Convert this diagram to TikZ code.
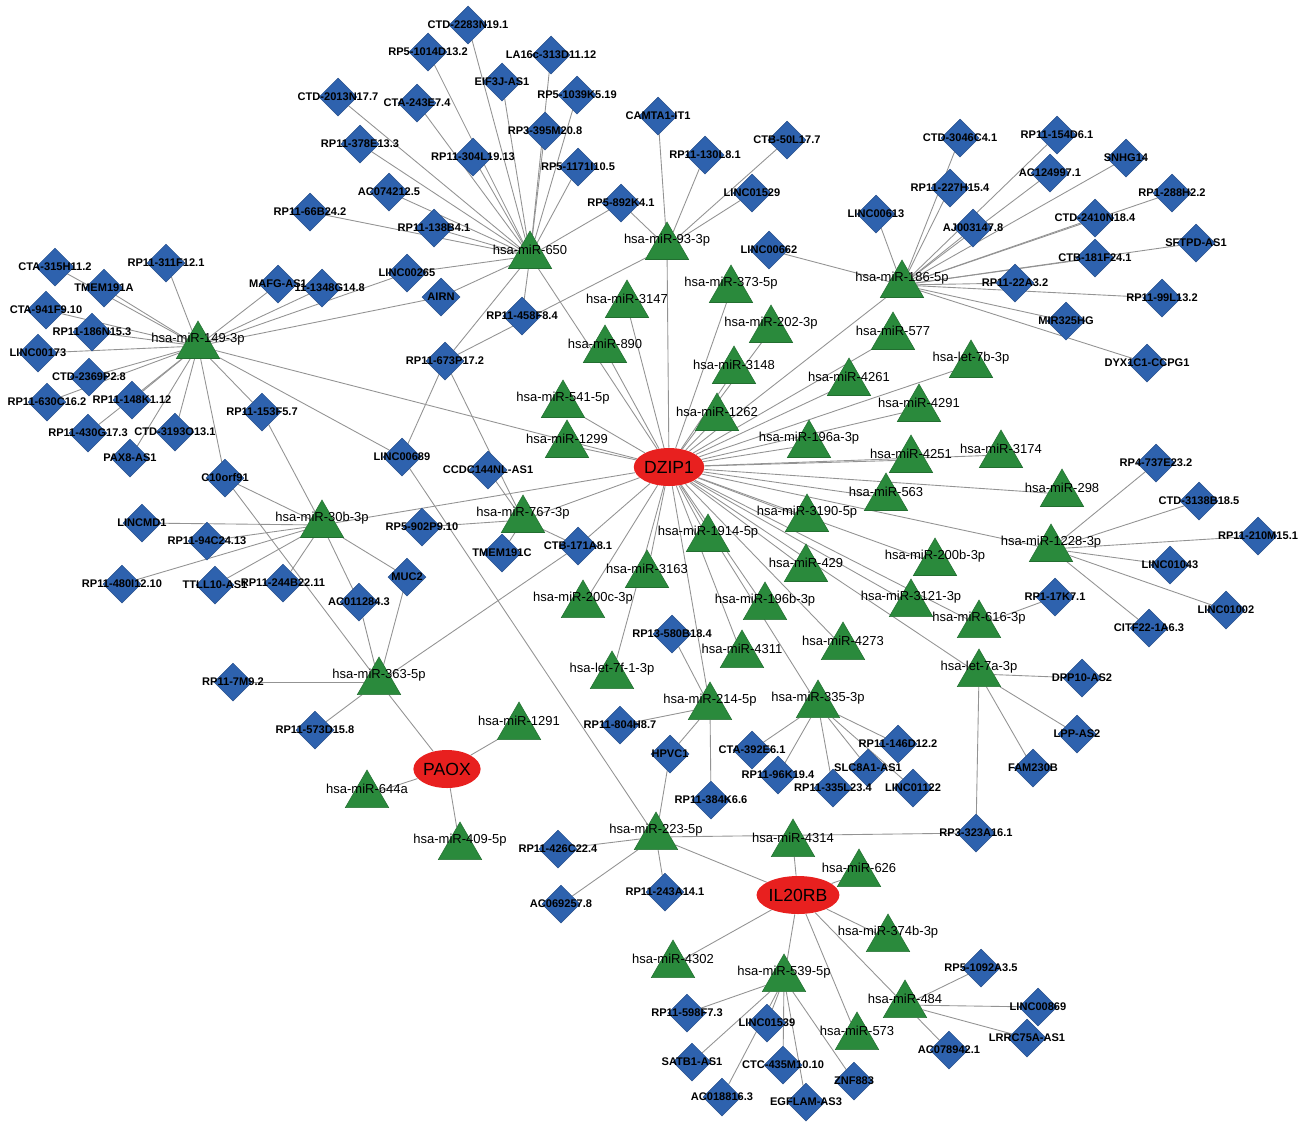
\documentclass[tikz,border=0pt]{standalone}
\usepackage{fontspec}
\setmainfont{Liberation Sans}
\usetikzlibrary{shapes.geometric,backgrounds}
\definecolor{mirgreen}{HTML}{2A8A3C}
\definecolor{lncblue}{HTML}{2E62AE}
\definecolor{genered}{HTML}{E8201F}
\tikzset{
  mir/.style={regular polygon, regular polygon sides=3, fill=mirgreen, draw=mirgreen!80!black, line width=0.3pt, minimum size=1cm, inner sep=0pt},
  lnc/.style={diamond, fill=lncblue, draw=lncblue!80!black, line width=0.3pt, minimum width=0.76cm, minimum height=0.76cm, inner sep=0pt},
  gene/.style={ellipse, fill=genered, minimum width=0.93cm, minimum height=0.76cm, inner sep=0pt, font=\fontsize{10}{11}\selectfont},
  mlab/.style={yshift=0.13cm, font=\fontsize{7.4}{8}\selectfont, inner sep=0pt},
  llab/.style={font=\bfseries\fontsize{6.3}{7}\selectfont, inner sep=0pt},
  edge/.style={draw=gray!85, line width=0.5pt}
}
\newcommand\mirna[3]{\node[mir, label={[mlab]center:#3}] (#1) at (#2) {};}
\newcommand\lncrna[3]{\node[lnc, label={[llab]center:#3}] (#1) at (#2) {};}
\begin{document}
\begin{tikzpicture}[x=0.02cm, y=-0.02cm]
\useasboundingbox (0,0) rectangle (1305,1134);
% genes
\node[gene] (dzip) at (669,467) {DZIP1};
\node[gene] (paox) at (447,769) {PAOX};
\node[gene] (il20) at (798,895) {IL20RB};
% miRNAs
\mirna{m650}{530,256}{hsa-miR-650}
\mirna{m93}{667,247}{hsa-miR-93-3p}
\mirna{m186}{902,285}{hsa-miR-186-5p}
\mirna{m149}{198,346}{hsa-miR-149-3p}
\mirna{m3147}{627,305}{hsa-miR-3147}
\mirna{m373}{731,290}{hsa-miR-373-5p}
\mirna{m202}{771,330}{hsa-miR-202-3p}
\mirna{m890}{605,350}{hsa-miR-890}
\mirna{m577}{893,337}{hsa-miR-577}
\mirna{m3148}{734,371}{hsa-miR-3148}
\mirna{m7b}{971,365}{hsa-let-7b-3p}
\mirna{m4261}{849,383}{hsa-miR-4261}
\mirna{m541}{563,405}{hsa-miR-541-5p}
\mirna{m4291}{919,409}{hsa-miR-4291}
\mirna{m1262}{717,418}{hsa-miR-1262}
\mirna{m1299}{567,445}{hsa-miR-1299}
\mirna{m196a}{809,445}{hsa-miR-196a-3p}
\mirna{m3174}{1001,455}{hsa-miR-3174}
\mirna{m4251}{911,460}{hsa-miR-4251}
\mirna{m563}{886,498}{hsa-miR-563}
\mirna{m298}{1062,494}{hsa-miR-298}
\mirna{m30b}{322,525}{hsa-miR-30b-3p}
\mirna{m767}{523,520}{hsa-miR-767-3p}
\mirna{m3190}{807,519}{hsa-miR-3190-5p}
\mirna{m1914}{708,539}{hsa-miR-1914-5p}
\mirna{m1228}{1051,549}{hsa-miR-1228-3p}
\mirna{m200b}{935,563}{hsa-miR-200b-3p}
\mirna{m429}{806,569}{hsa-miR-429}
\mirna{m3163}{647,575}{hsa-miR-3163}
\mirna{m200c}{583,605}{hsa-miR-200c-3p}
\mirna{m3121}{911,604}{hsa-miR-3121-3p}
\mirna{m196b}{765,607}{hsa-miR-196b-3p}
\mirna{m616}{979,625}{hsa-miR-616-3p}
\mirna{m4273}{843,647}{hsa-miR-4273}
\mirna{m4311}{742,655}{hsa-miR-4311}
\mirna{m7f}{612,676}{hsa-let-7f-1-3p}
\mirna{m7a}{979,674}{hsa-let-7a-3p}
\mirna{m363}{379,682}{hsa-miR-363-5p}
\mirna{m214}{710,707}{hsa-miR-214-5p}
\mirna{m335}{818,705}{hsa-miR-335-3p}
\mirna{m1291}{519,727}{hsa-miR-1291}
\mirna{m644}{367,795}{hsa-miR-644a}
\mirna{m409}{460,847}{hsa-miR-409-5p}
\mirna{m223}{656,837}{hsa-miR-223-5p}
\mirna{m4314}{793,844}{hsa-miR-4314}
\mirna{m626}{859,874}{hsa-miR-626}
\mirna{m374}{888,939}{hsa-miR-374b-3p}
\mirna{m4302}{673,965}{hsa-miR-4302}
\mirna{m539}{784,979}{hsa-miR-539-5p}
\mirna{m484}{905,1005}{hsa-miR-484}
\mirna{m573}{857,1037}{hsa-miR-573}
% lncRNAs round miR-650 and miR-93-3p
\lncrna{a1}{468,25}{CTD-2283N19.1}
\lncrna{a2}{428,52}{RP5-1014D13.2}
\lncrna{a3}{551,55}{LA16c-313D11.12}
\lncrna{a4}{502,82}{EIF3J-AS1}
\lncrna{a5}{577,95}{RP5-1039K5.19}
\lncrna{a6}{338,97}{CTD-2013N17.7}
\lncrna{a7}{417,103}{CTA-243E7.4}
\lncrna{a8}{545,131}{RP3-395M20.8}
\lncrna{a9}{360,144}{RP11-378E13.3}
\lncrna{a10}{473,157}{RP11-304L19.13}
\lncrna{a11}{578,167}{RP5-1171I10.5}
\lncrna{a12}{389,192}{AC074212.5}
\lncrna{a13}{310,212}{RP11-66B24.2}
\lncrna{a14}{434,228}{RP11-138B4.1}
\lncrna{a15}{621,203}{RP5-892K4.1}
\lncrna{b1}{658,116}{CAMTA1-IT1}
\lncrna{b2}{705,155}{RP11-130L8.1}
\lncrna{b3}{787,140}{CTB-50L17.7}
\lncrna{b4}{752,193}{LINC01529}
\lncrna{b5}{769,250}{LINC00662}
% lncRNAs round miR-149-3p
\lncrna{e1}{55,267}{CTA-315H11.2}
\lncrna{e2}{166,263}{RP11-311F12.1}
\lncrna{e3}{104,288}{TMEM191A}
\lncrna{e4}{46,310}{CTA-941F9.10}
\lncrna{e5}{92,332}{RP11-186N15.3}
\lncrna{e6}{38,353}{LINC00173}
\lncrna{e7}{89,377}{CTD-2369P2.8}
\lncrna{e8}{47,402}{RP11-630C16.2}
\lncrna{e9}{132,400}{RP11-148K1.12}
\lncrna{e10}{88,433}{RP11-430G17.3}
\lncrna{e11}{175,432}{CTD-3193O13.1}
\lncrna{e12}{130,458}{PAX8-AS1}
% lncRNAs in the middle left
\lncrna{c2}{322,288}{RP11-1348G14.8}
\lncrna{c1}{278,284}{MAFG-AS1}
\lncrna{c3}{407,273}{LINC00265}
\lncrna{c4}{441,297}{AIRN}
\lncrna{c5}{522,316}{RP11-458F8.4}
\lncrna{c6}{445,361}{RP11-673P17.2}
\lncrna{c7}{262,412}{RP11-153F5.7}
\lncrna{c8}{402,457}{LINC00689}
\lncrna{c9}{488,470}{CCDC144NL-AS1}
\lncrna{c10}{225,478}{C10orf91}
\lncrna{c11}{422,527}{RP5-902P9.10}
\lncrna{c12}{502,553}{TMEM191C}
\lncrna{c13}{578,546}{CTB-171A8.1}
\lncrna{c14}{407,577}{MUC2}
\lncrna{f1}{142,523}{LINCMD1}
\lncrna{f2}{207,541}{RP11-94C24.13}
\lncrna{f3}{122,584}{RP11-480I12.10}
\lncrna{f4}{215,585}{TTLL10-AS1}
\lncrna{f5}{283,583}{RP11-244B22.11}
\lncrna{f6}{359,602}{AC011284.3}
\lncrna{f7}{233,682}{RP11-7M9.2}
\lncrna{f8}{315,730}{RP11-573D15.8}
% lncRNAs round miR-186-5p
\lncrna{g1}{960,138}{CTD-3046C4.1}
\lncrna{g2}{1057,135}{RP11-154D6.1}
\lncrna{g3}{1050,173}{AC124997.1}
\lncrna{g4}{1126,158}{SNHG14}
\lncrna{g5}{950,188}{RP11-227H15.4}
\lncrna{g6}{1172,193}{RP1-288H2.2}
\lncrna{g7}{876,214}{LINC00613}
\lncrna{g8}{973,228}{AJ003147.8}
\lncrna{g9}{1095,218}{CTD-2410N18.4}
\lncrna{g10}{1196,243}{SFTPD-AS1}
\lncrna{g11}{1095,258}{CTB-181F24.1}
\lncrna{g12}{1015,283}{RP11-22A3.2}
\lncrna{g13}{1162,298}{RP11-99L13.2}
\lncrna{g14}{1066,321}{MIR325HG}
\lncrna{g15}{1147,363}{DYX1C1-CCPG1}
% lncRNAs on the right
\lncrna{h1}{1156,463}{RP4-737E23.2}
\lncrna{h2}{1199,501}{CTD-3138B18.5}
\lncrna{h3}{1258,536}{RP11-210M15.1}
\lncrna{h4}{1170,565}{LINC01043}
\lncrna{h5}{1226,610}{LINC01002}
\lncrna{h6}{1149,628}{CITF22-1A6.3}
\lncrna{h7}{1055,597}{RP1-17K7.1}
\lncrna{h8}{1082,678}{DPP10-AS2}
\lncrna{h9}{1077,734}{LPP-AS2}
\lncrna{h10}{1033,768}{FAM230B}
\lncrna{h11}{976,833}{RP3-323A16.1}
% lncRNAs round miR-214-5p and miR-335-3p
\lncrna{k1}{672,634}{RP13-580B18.4}
\lncrna{k2}{620,725}{RP11-804H8.7}
\lncrna{k3}{670,754}{HPVC1}
\lncrna{k4}{711,800}{RP11-384K6.6}
\lncrna{k5}{752,750}{CTA-392E6.1}
\lncrna{k6}{778,775}{RP11-96K19.4}
\lncrna{k7}{898,744}{RP11-146D12.2}
\lncrna{k8}{868,768}{SLC8A1-AS1}
\lncrna{k9}{833,788}{RP11-335L23.4}
\lncrna{k10}{913,788}{LINC01122}
% lncRNAs at the bottom
\lncrna{n1}{558,849}{RP11-426C22.4}
\lncrna{n2}{561,904}{AC069257.8}
\lncrna{n3}{665,892}{RP11-243A14.1}
\lncrna{n4}{687,1013}{RP11-598F7.3}
\lncrna{n5}{767,1023}{LINC01539}
\lncrna{n6}{692,1062}{SATB1-AS1}
\lncrna{n7}{783,1065}{CTC-435M10.10}
\lncrna{n8}{854,1081}{ZNF883}
\lncrna{n9}{722,1097}{AC018816.3}
\lncrna{n10}{806,1102}{EGFLAM-AS3}
\lncrna{n11}{981,968}{RP5-1092A3.5}
\lncrna{n12}{1038,1007}{LINC00869}
\lncrna{n13}{1027,1038}{LRRC75A-AS1}
\lncrna{n14}{949,1050}{AC078942.1}
% connectors
\begin{scope}[on background layer]
\foreach \t in {m650,m93,m186,m149,m30b,m767,m3147,m373,m202,m890,m577,m3148,m7b,m4261,m541,m4291,m1262,m1299,m196a,m3174,m4251,m563,m298,m3190,m1914,m1228,m200b,m429,m3163,m200c,m3121,m196b,m616,m4273,m4311,m7f,m7a,m214,m335,c13}
  \draw[edge] (dzip) -- (\t);
\foreach \t in {a1,a2,a3,a4,a5,a6,a7,a8,a9,a10,a11,a12,a13,a14,a15,c3,c4,c5,c6}
  \draw[edge] (m650) -- (\t);
\foreach \t in {a15,b1,b2,b3,b4,c6}
  \draw[edge] (m93) -- (\t);
\foreach \t in {e1,e2,e3,e4,e5,e6,e7,e8,e9,e10,e11,e12,c1,c2,c3,c4,c7,c8,c10}
  \draw[edge] (m149) -- (\t);
\foreach \t in {g1,g2,g3,g4,g5,g6,g7,g8,g9,g10,g11,g12,g13,g14,g15,b5}
  \draw[edge] (m186) -- (\t);
\foreach \t in {c7,c10,c14,f1,f2,f3,f4,f5,f6}
  \draw[edge] (m30b) -- (\t);
\foreach \t in {c6,c9,c11,c12,c13}
  \draw[edge] (m767) -- (\t);
\foreach \t in {c10,c13,c14,f6,f7,f8,paox}
  \draw[edge] (m363) -- (\t);
\draw[edge] (c6) -- (c8);
\foreach \t in {h1,h2,h3,h4,h5,h6}
  \draw[edge] (m1228) -- (\t);
\draw[edge] (m616) -- (h7);
\foreach \t in {h8,h9,h10,h11}
  \draw[edge] (m7a) -- (\t);
\foreach \t in {k1,k2,k3,k4}
  \draw[edge] (m214) -- (\t);
\foreach \t in {k5,k6,k7,k8,k9,k10}
  \draw[edge] (m335) -- (\t);
\foreach \t in {c8,k3,h11,n1,n2,n3,il20}
  \draw[edge] (m223) -- (\t);
\foreach \t in {m1291,m644,m409}
  \draw[edge] (paox) -- (\t);
\foreach \t in {m4314,m626,m374,m4302,m539,m573,m484}
  \draw[edge] (il20) -- (\t);
\foreach \t in {n4,n5,n6,n7,n8,n9,n10}
  \draw[edge] (m539) -- (\t);
\foreach \t in {n11,n12,n13,n14}
  \draw[edge] (m484) -- (\t);
\end{scope}
\end{tikzpicture}
\end{document}
